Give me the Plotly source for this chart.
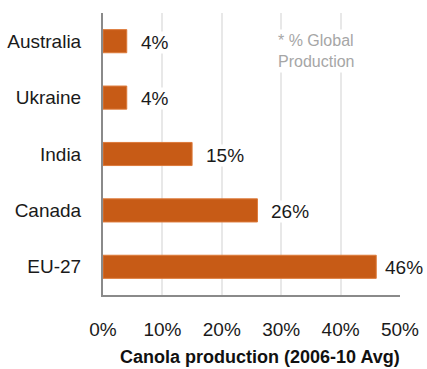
import plotly.graph_objects as go

# Share of global canola production, 2006-10 average
countries = ["EU-27", "Canada", "India", "Ukraine", "Australia"]
shares = [46, 26, 15, 4, 4]
tick_vals = [0, 10, 20, 30, 40, 50]
tick_text = ["0%", "10%", "20%", "30%", "40%", "50%"]

BAR = "#c75b16"
FONT = "Liberation Sans, Arial, Helvetica, sans-serif"

fig = go.Figure(
    go.Bar(
        x=shares,
        y=countries,
        orientation="h",
        marker=dict(color=BAR, line=dict(color="#dd7a3a", width=1)),
        hoverinfo="skip",
    )
)

# value labels on a white box so they sit above the gridlines;
# the longest bar's label is pulled in a little so it stays on the page
for c, v in zip(countries, shares):
    fig.add_annotation(
        x=v, y=c, xref="x", yref="y",
        text=f"{v}%", showarrow=False,
        xanchor="left", xshift=13 if v < 40 else 8, yshift=-1,
        font=dict(family=FONT, size=19, color="#1a1a1a"),
        bgcolor="white", borderpad=0,
    )

fig.add_annotation(
    x=28.9, y=3.83, xref="x", yref="y",
    text="* % Global<br>Production", showarrow=False,
    xanchor="left", align="left",
    font=dict(family=FONT, size=16, color="#a6a6a6"),
    bgcolor="white", borderpad=2,
)

# axis title, placed below the tick labels
fig.add_annotation(
    x=0.529, y=-0.22, xref="paper", yref="paper",
    text="<b>Canola production (2006-10 Avg)</b>", showarrow=False,
    xanchor="center", yanchor="middle",
    font=dict(family=FONT, size=18, color="#111"),
)

fig.update_layout(
    width=427, height=369,
    margin=dict(l=103, r=27, t=13, b=74),
    paper_bgcolor="white", plot_bgcolor="white",
    bargap=0.59,
    showlegend=False,
    font=dict(family=FONT, color="#1a1a1a"),
    xaxis=dict(
        range=[0, 50],
        tickvals=tick_vals, ticktext=tick_text,
        showgrid=True, gridcolor="#e8e8e8", gridwidth=1.5,
        zeroline=False,
        showline=True, linecolor="#8a8a8a", linewidth=2,
        ticks="", ticklabelstandoff=16,
        tickfont=dict(family=FONT, size=19, color="#1a1a1a"),
        automargin=False,
        fixedrange=True,
    ),
    yaxis=dict(
        categoryorder="array", categoryarray=countries,
        showgrid=False, zeroline=False,
        showline=True, linecolor="#8a8a8a", linewidth=2,
        ticks="", ticklabelstandoff=16,
        tickfont=dict(family=FONT, size=19, color="#1a1a1a"),
        automargin=False,
        fixedrange=True,
    ),
)

fig.write_html("out.html")
